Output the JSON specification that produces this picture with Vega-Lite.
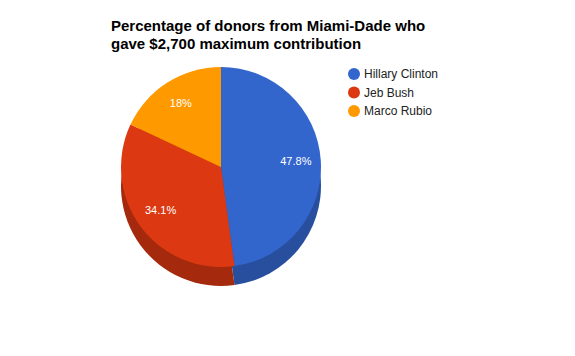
{
  "$schema": "https://vega.github.io/schema/vega-lite/v6.json",
  "autosize": {"type": "none"},
  "width": 220,
  "height": 220,
  "padding": {"left": 111, "top": 57, "right": 244, "bottom": 79},
  "background": "white",
  "title": {
    "text": ["Percentage of donors from Miami-Dade who", "gave $2,700 maximum contribution"],
    "anchor": "start",
    "frame": "group",
    "font": "Liberation Sans",
    "fontSize": 15,
    "fontWeight": "bold",
    "color": "#000000",
    "lineHeight": 18,
    "offset": 5
  },
  "data": {
    "values": [
      {"candidate": "Hillary Clinton", "percent": 47.8, "label": "47.8%", "order": 1},
      {"candidate": "Jeb Bush", "percent": 34.1, "label": "34.1%", "order": 2},
      {"candidate": "Marco Rubio", "percent": 18, "label": "18%", "order": 3}
    ]
  },
  "encoding": {
    "theta": {"field": "percent", "type": "quantitative", "stack": true},
    "order": {"field": "order", "type": "quantitative"}
  },
  "layer": [
    {
      "mark": {"type": "arc", "outerRadius": 100, "yOffset": 19},
      "encoding": {
        "color": {
          "field": "candidate",
          "type": "nominal",
          "scale": {"domain": ["Hillary Clinton", "Jeb Bush", "Marco Rubio"], "range": ["#284f9e", "#a52a0d", "#c07300"]},
          "legend": null
        }
      }
    },
    {
      "mark": {"type": "arc", "outerRadius": 100},
      "encoding": {
        "color": {
          "field": "candidate",
          "type": "nominal",
          "scale": {"domain": ["Hillary Clinton", "Jeb Bush", "Marco Rubio"], "range": ["#3366cc", "#dc3912", "#ff9900"]},
          "legend": {
            "title": null,
            "orient": "none",
            "legendX": 237,
            "legendY": 11,
            "symbolType": "circle",
            "symbolSize": 144,
            "symbolStrokeWidth": 0,
            "symbolOpacity": 1,
            "labelFont": "Liberation Sans",
            "labelFontSize": 12,
            "labelColor": "#222222",
            "labelOffset": 4,
            "rowPadding": 6.5,
            "padding": 0
          }
        }
      }
    },
    {
      "mark": {"type": "text", "radius": 75, "fill": "#ffffff", "font": "Liberation Sans", "fontSize": 11, "align": "center", "baseline": "middle"},
      "encoding": {"text": {"field": "label", "type": "nominal"}}
    }
  ],
  "resolve": {"scale": {"color": "independent"}}
}
